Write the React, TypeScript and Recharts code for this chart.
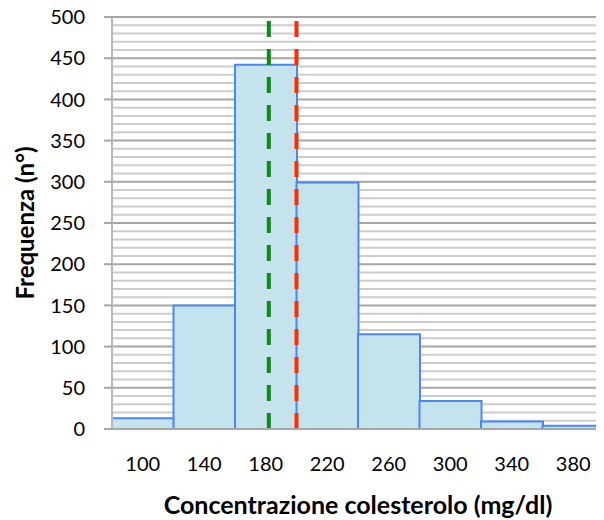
import { Bar, BarChart, CartesianGrid, Label, ReferenceLine, XAxis, YAxis } from "recharts";

const binCenters = [100, 140, 180, 220, 260, 300, 340, 380];
const counts = [13, 150, 442, 299, 115, 34, 9, 4];
const yTicks = [0, 50, 100, 150, 200, 250, 300, 350, 400, 450, 500];
const minorGrid = [10, 20, 30, 40, 60, 70, 80, 90, 110, 120, 130, 140, 160, 170, 180, 190, 210, 220, 230, 240, 260, 270, 280, 290, 310, 320, 330, 340, 360, 370, 380, 390, 410, 420, 430, 440, 460, 470, 480, 490];
const meanValue = 182;
const limitValue = 200;

const data = binCenters.map((x, i) => ({ x, count: counts[i] }));

const font = "Lato, 'Open Sans', sans-serif";

export default function App() {
  // pull the chart up over the body margin so the top tick label sits inside the svg
  return (
    <div style={{ width: 596, height: 520, marginTop: -8, fontFamily: font }}>
      <BarChart
        width={596}
        height={520}
        data={data}
        barCategoryGap={0}
        margin={{ top: 17, right: 0, bottom: 0, left: 40 }}
      >
        <CartesianGrid vertical={false} horizontalValues={minorGrid} stroke="#cccccc" strokeWidth={2} />
        <CartesianGrid vertical={false} horizontalValues={yTicks} stroke="#a6a6a6" strokeWidth={2} />
        <XAxis
          dataKey="x"
          type="number"
          domain={[80, 400]}
          ticks={binCenters}
          interval={0}
          height={91}
          tickLine={false}
          axisLine={{ stroke: "#a6a6a6", strokeWidth: 2 }}
          tick={{ fill: "#000", fontSize: 20, fontFamily: font }}
          tickMargin={22}
        >
          <Label
            value="Concentrazione colesterolo (mg/dl)"
            position="insideBottom"
            offset={6}
            style={{ fill: "#000", fontSize: 25, fontWeight: 700, fontFamily: font }}
          />
        </XAxis>
        <YAxis
          width={64}
          domain={[0, 500]}
          ticks={yTicks}
          interval={0}
          tickSize={8}
          tickMargin={19}
          tickLine={{ stroke: "#a6a6a6", strokeWidth: 2 }}
          axisLine={{ stroke: "#b8b8b8", strokeWidth: 2 }}
          tick={{ fill: "#000", fontSize: 20, fontFamily: font }}
        >
          <Label
            value="Frequenza (n°)"
            angle={-90}
            position="insideLeft"
            offset={-23}
            style={{ fill: "#000", fontSize: 24, fontWeight: 700, fontFamily: font, textAnchor: "middle" }}
          />
        </YAxis>
        <Bar
          dataKey="count"
          fill="#c5e3ec"
          stroke="#4a86f7"
          strokeWidth={2}
          isAnimationActive={false}
        />
        <ReferenceLine x={meanValue} stroke="#0b8c13" strokeWidth={4} strokeDasharray="16 12" />
        <ReferenceLine x={limitValue} stroke="#ff2a00" strokeWidth={4} strokeDasharray="16 12" />
      </BarChart>
    </div>
  );
}
